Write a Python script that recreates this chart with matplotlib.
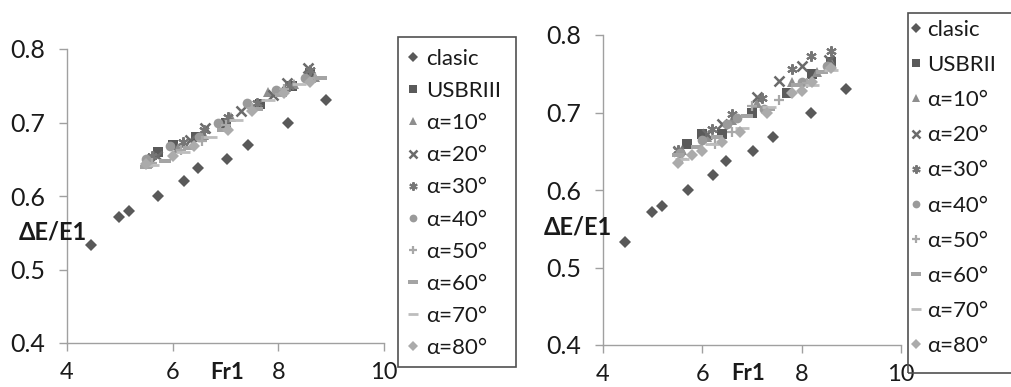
import matplotlib
matplotlib.use("Agg")
import matplotlib.pyplot as plt
from matplotlib.path import Path
from matplotlib.patches import Rectangle

plt.rcParams['font.family'] = ['Lato', 'DejaVu Sans']

# ---------------- data ----------------
fr_clasic = [4.45, 4.98, 5.18, 5.72, 6.21, 6.48, 7.03, 7.42, 8.18, 8.90]
de_clasic = [0.533, 0.571, 0.580, 0.600, 0.620, 0.638, 0.650, 0.669, 0.700, 0.730]

# left panel
fr_usbr_L = [5.72, 6.00, 6.45, 7.00, 7.65, 8.25, 8.60]
de_usbr_L = [0.660, 0.670, 0.680, 0.700, 0.725, 0.750, 0.768]
fr_a10_L = [5.55, 6.10, 6.60, 7.10, 7.80, 8.30, 8.70]
de_a10_L = [0.650, 0.665, 0.683, 0.708, 0.742, 0.752, 0.762]
fr_a20_L = [5.70, 6.33, 6.62, 7.30, 7.90, 8.16, 8.57]
de_a20_L = [0.655, 0.676, 0.692, 0.716, 0.738, 0.754, 0.774]
fr_a30_L = [5.60, 6.20, 6.60, 7.05, 7.60, 8.20, 8.60]
de_a30_L = [0.655, 0.673, 0.690, 0.708, 0.726, 0.750, 0.772]
fr_a40_L = [5.50, 5.95, 6.50, 6.85, 7.40, 7.95, 8.50]
de_a40_L = [0.650, 0.668, 0.680, 0.700, 0.727, 0.744, 0.760]
fr_a50_L = [5.60, 6.15, 6.55, 7.00, 7.50, 8.10, 8.70]
de_a50_L = [0.645, 0.662, 0.675, 0.697, 0.720, 0.745, 0.760]
fr_a60_L = [5.50, 5.85, 6.30, 6.95, 7.60, 8.05, 8.80]
de_a60_L = [0.640, 0.648, 0.665, 0.690, 0.718, 0.738, 0.760]
fr_a70_L = [5.60, 6.20, 6.70, 7.20, 7.80, 8.40]
de_a70_L = [0.642, 0.660, 0.680, 0.703, 0.730, 0.752]
fr_a80_L = [5.50, 6.00, 6.40, 7.05, 7.50, 8.10, 8.60]
de_a80_L = [0.643, 0.655, 0.668, 0.690, 0.715, 0.740, 0.755]

# right panel
fr_usbr_R = [5.70, 6.00, 6.40, 7.00, 7.70, 8.20, 8.60]
de_usbr_R = [0.660, 0.672, 0.672, 0.700, 0.725, 0.750, 0.765]
fr_a10_R = [5.60, 6.10, 6.60, 7.10, 7.80, 8.30, 8.60]
de_a10_R = [0.652, 0.668, 0.690, 0.712, 0.740, 0.752, 0.765]
fr_a20_R = [5.50, 6.10, 6.40, 7.10, 7.55, 8.00, 8.55]
de_a20_R = [0.650, 0.672, 0.685, 0.720, 0.741, 0.760, 0.768]
fr_a30_R = [5.50, 6.20, 6.60, 7.20, 7.80, 8.18, 8.59]
de_a30_R = [0.652, 0.679, 0.698, 0.719, 0.756, 0.773, 0.779]
fr_a40_R = [5.55, 6.00, 6.50, 6.70, 7.25, 8.00, 8.50]
de_a40_R = [0.648, 0.665, 0.685, 0.693, 0.705, 0.740, 0.760]
fr_a50_R = [5.60, 6.25, 6.60, 7.00, 7.55, 8.10, 8.60]
de_a50_R = [0.640, 0.660, 0.675, 0.708, 0.716, 0.738, 0.758]
fr_a60_R = [5.50, 5.90, 6.30, 6.90, 7.35, 7.90, 8.40]
de_a60_R = [0.645, 0.655, 0.668, 0.695, 0.705, 0.735, 0.752]
fr_a70_R = [5.60, 6.20, 6.80, 7.35, 8.20, 8.60]
de_a70_R = [0.640, 0.660, 0.680, 0.707, 0.735, 0.755]
fr_a80_R = [5.50, 5.80, 6.00, 6.40, 6.75, 7.30, 7.80, 8.00, 8.20, 8.60]
de_a80_R = [0.635, 0.645, 0.650, 0.662, 0.675, 0.700, 0.725, 0.728, 0.740, 0.758]

labels_L = ["clasic", "USBRIII", "α=10°", "α=20°", "α=30°", "α=40°",
            "α=50°", "α=60°", "α=70°", "α=80°"]
labels_R = ["clasic", "USBRII", "α=10°", "α=20°", "α=30°", "α=40°",
            "α=50°", "α=60°", "α=70°", "α=80°"]
x_ticks = [4, 6, 8, 10]
y_ticks = [0.4, 0.5, 0.6, 0.7, 0.8]

# ---------------- styles ----------------
dash_marker = Path([(-1, -0.38), (1, -0.38), (1, 0.38), (-1, 0.38), (-1, -0.38)],
                   [Path.MOVETO, Path.LINETO, Path.LINETO, Path.LINETO, Path.CLOSEPOLY])
styles = [
    dict(marker='D', color='#595959', ms=6.3),
    dict(marker='s', color='#5a5a5a', ms=6.5),
    dict(marker='^', color='#8e8e8e', ms=7.5),
    dict(marker='x', color='#6a6a6a', ms=6.5, mew=1.8),
    dict(marker=(6, 2, 0), color='#767676', ms=7.5, mew=1.5),
    dict(marker='o', color='#9a9a9a', ms=7),
    dict(marker='+', color='#a8a8a8', ms=7.5, mew=1.6),
    dict(marker=dash_marker, color='#a4a4a4', ms=8.5),
    dict(marker='_', color='#bdbdbd', ms=9.5, mew=2),
    dict(marker='D', color='#ababab', ms=6.3),
]

series_L = [(fr_clasic, de_clasic), (fr_usbr_L, de_usbr_L), (fr_a10_L, de_a10_L),
            (fr_a20_L, de_a20_L), (fr_a30_L, de_a30_L), (fr_a40_L, de_a40_L),
            (fr_a50_L, de_a50_L), (fr_a60_L, de_a60_L), (fr_a70_L, de_a70_L),
            (fr_a80_L, de_a80_L)]
series_R = [(fr_clasic, de_clasic), (fr_usbr_R, de_usbr_R), (fr_a10_R, de_a10_R),
            (fr_a20_R, de_a20_R), (fr_a30_R, de_a30_R), (fr_a40_R, de_a40_R),
            (fr_a50_R, de_a50_R), (fr_a60_R, de_a60_R), (fr_a70_R, de_a70_R),
            (fr_a80_R, de_a80_R)]

W, H = 1011, 387
fig = plt.figure(figsize=(W / 100, H / 100), dpi=100)
fig.patch.set_facecolor('white')


def fx(px):
    return px / W


def fy(py):
    return 1 - py / H


def make_panel(rect, series, labels, ylab_pos, xlab_pos, leg_box, leg_anchor,
               labelspacing, textpad):
    ax = fig.add_axes(rect)
    handles = []
    for (xs, ys), st, lab in zip(series, styles, labels):
        st = dict(st)
        mew = st.pop('mew', 0)
        h, = ax.plot(xs, ys, linestyle='none', marker=st['marker'], color=st['color'],
                     markersize=st['ms'], markeredgewidth=mew, label=lab)
        handles.append(h)
    ax.set_xlim(4, 10)
    ax.set_ylim(0.4, 0.8)
    ax.set_xticks(x_ticks)
    ax.set_yticks(y_ticks)
    ax.set_xticklabels([str(t) for t in x_ticks])
    ax.set_yticklabels([f"{t:.1f}" for t in y_ticks])
    for s in ['top', 'right']:
        ax.spines[s].set_visible(False)
    for s in ['left', 'bottom']:
        ax.spines[s].set_color('#a0a0a0')
        ax.spines[s].set_linewidth(1.0)
    ax.tick_params(axis='both', direction='out', length=6, width=1.0, color='#a0a0a0',
                   labelcolor='#1a1a1a')
    ax.tick_params(axis='x', pad=8, labelsize=17)
    ax.tick_params(axis='y', pad=10, labelsize=18)
    ax.text(xlab_pos[0], xlab_pos[1], "Fr1", transform=ax.transAxes, ha='center',
            va='center', fontsize=16, fontweight='bold', color='#1a1a1a')
    ax.text(ylab_pos[0], ylab_pos[1], "ΔE/E1", transform=ax.transAxes, ha='center',
            va='center', fontsize=17, fontweight='bold', color='#1a1a1a')
    # legend box
    x0, y0, x1, y1 = leg_box
    fig.patches.append(Rectangle((fx(x0), fy(y1)), fx(x1) - fx(x0), fy(y0) - fy(y1),
                                 transform=fig.transFigure, fill=False,
                                 edgecolor='#505050', linewidth=1.2))
    leg = fig.legend(handles=handles, loc='upper left',
                     bbox_to_anchor=(fx(leg_anchor[0]), fy(leg_anchor[1])),
                     bbox_transform=fig.transFigure, frameon=False, fontsize=16,
                     labelspacing=labelspacing, handletextpad=textpad, handlelength=0.9,
                     borderpad=0, borderaxespad=0, markerscale=0.8)
    for t in leg.get_texts():
        t.set_color('#1a1a1a')
    return ax


make_panel([fx(67), fy(343), fx(384) - fx(67), fy(49) - fy(343)], series_L, labels_L,
           (-0.044, 0.378), (0.505, -0.102), (398, 37, 516, 367), (403, 49), 0.545, 0.15)
make_panel([fx(603), fy(345), fx(901) - fx(603), fy(35) - fy(345)], series_R, labels_R,
           (-0.084, 0.381), (0.487, -0.093), (908, 13, 1030, 373), (906, 20), 0.68, 0.05)

fig.savefig("out.png", dpi=100, facecolor='white')
